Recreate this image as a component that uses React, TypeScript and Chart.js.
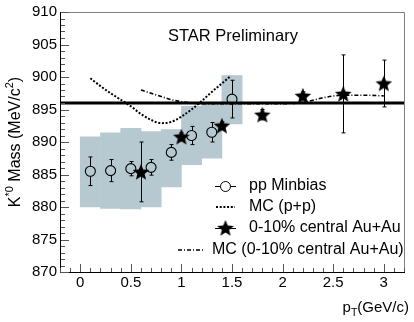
import React, { useEffect, useRef } from 'react';
import { Chart, registerables } from 'chart.js';

Chart.register(...registerables);

// ---- data ----
const ppPt = [0.1, 0.3, 0.5, 0.7, 0.9, 1.1, 1.3, 1.5];
const ppMass = [885.5, 885.6, 885.9, 886.1, 888.4, 891.0, 891.5, 896.6];
const ppErr = [2.2, 1.7, 1.1, 1.2, 1.2, 1.4, 1.5, 2.9];

const sysLow = [880.0, 879.8, 879.7, 880.0, 883.1, 886.5, 887.5, 892.8];
const sysHigh = [890.8, 891.4, 892.1, 891.6, 891.9, 895.5, 895.9, 900.2];

const auPt = [0.6, 1.0, 1.4, 1.8, 2.2, 2.6, 3.0];
const auMass = [885.4, 890.8, 892.5, 894.2, 897.1, 897.4, 899.0];
const auErr = [4.6, 0.6, 0.6, 0.8, 0.6, 6.0, 3.6];

const mcPpPt = [0.1, 0.2, 0.3, 0.4, 0.5, 0.6, 0.7, 0.8, 0.9, 1.0, 1.1, 1.2, 1.3, 1.4, 1.49];
const mcPpMass = [899.8, 898.6, 897.5, 896.5, 895.5, 894.3, 893.4, 892.9, 893.1, 893.9, 895.0, 896.3, 897.7, 899.0, 900.2];

const mcAuPt = [0.6, 0.7, 0.8, 0.9, 1.0, 1.1, 1.2, 1.4, 1.6, 1.8, 2.0, 2.2, 2.4, 2.6, 2.8, 3.0];
const mcAuMass = [898.0, 897.5, 897.0, 896.5, 896.2, 896.0, 895.9, 895.9, 895.9, 895.9, 895.9, 896.1, 896.8, 897.2, 897.2, 897.1];

const pdgPt = [-0.2, 3.2];
const pdgMass = [896.0, 896.0];

const xTicks = [0, 0.5, 1, 1.5, 2, 2.5, 3];
const yTicks = [870, 875, 880, 885, 890, 895, 900, 905, 910];
const legendLabels = ['pp Minbias', 'MC (p+p)', '0-10% central Au+Au', 'MC (0-10% central Au+Au)'];
const plotLabel = 'STAR Preliminary';

const FONT = '"Liberation Sans", Arial, Helvetica, sans-serif';
const BOX_COLOR = '#b6c9d1';
const STAR_SIZE = 18;

function makeStar(size: number): HTMLCanvasElement {
  const c = document.createElement('canvas');
  c.width = size;
  c.height = size;
  const g = c.getContext('2d')!;
  const cx = size / 2;
  const cy = size / 2 + 0.7;
  const R = size / 2 - 0.3;
  const r = R * 0.44;
  g.beginPath();
  for (let i = 0; i < 10; i++) {
    const a = -Math.PI / 2 + (i * Math.PI) / 5;
    const rad = i % 2 === 0 ? R : r;
    g.lineTo(cx + rad * Math.cos(a), cy + rad * Math.sin(a));
  }
  g.closePath();
  g.fillStyle = '#000';
  g.fill();
  return c;
}

type Part = { t: string; size: number; dy: number };

function richWidth(ctx: CanvasRenderingContext2D, parts: Part[]) {
  let w = 0;
  for (const p of parts) {
    ctx.font = `${p.size}px ${FONT}`;
    w += ctx.measureText(p.t).width;
  }
  return w;
}

function drawRich(ctx: CanvasRenderingContext2D, parts: Part[], x: number, y: number) {
  let cx = x;
  ctx.textBaseline = 'alphabetic';
  ctx.textAlign = 'left';
  for (const p of parts) {
    ctx.font = `${p.size}px ${FONT}`;
    ctx.fillText(p.t, cx, y + p.dy);
    cx += ctx.measureText(p.t).width;
  }
}

export default function App() {
  const ref = useRef<HTMLCanvasElement | null>(null);

  useEffect(() => {
    document.body.style.margin = '0';
    const canvas = ref.current!;
    const star = makeStar(STAR_SIZE);

    const decor = {
      id: 'decor',
      afterDatasetsDraw(chart: any) {
        const ctx: CanvasRenderingContext2D = chart.ctx;
        const xs = chart.scales.x;
        const ys = chart.scales.y;
        ctx.save();
        ctx.strokeStyle = '#000';
        ctx.lineWidth = 1;
        // pp error bars (outside the open circle)
        const rad = 5;
        ppPt.forEach((pt, i) => {
          const x = Math.round(xs.getPixelForValue(pt)) + 0.5;
          const yc = ys.getPixelForValue(ppMass[i]);
          const yt = ys.getPixelForValue(ppMass[i] + ppErr[i]);
          const yb = ys.getPixelForValue(ppMass[i] - ppErr[i]);
          ctx.beginPath();
          if (yt < yc - rad) {
            ctx.moveTo(x, yc - rad);
            ctx.lineTo(x, yt);
            ctx.moveTo(x - 2, yt);
            ctx.lineTo(x + 2, yt);
          }
          if (yb > yc + rad) {
            ctx.moveTo(x, yc + rad);
            ctx.lineTo(x, yb);
            ctx.moveTo(x - 2, yb);
            ctx.lineTo(x + 2, yb);
          }
          ctx.stroke();
        });
        // Au+Au error bars
        auPt.forEach((pt, i) => {
          const x = Math.round(xs.getPixelForValue(pt)) + 0.5;
          const yt = ys.getPixelForValue(auMass[i] + auErr[i]);
          const yb = ys.getPixelForValue(auMass[i] - auErr[i]);
          ctx.beginPath();
          ctx.moveTo(x, yt);
          ctx.lineTo(x, yb);
          ctx.moveTo(x - 2, yt);
          ctx.lineTo(x + 2, yt);
          ctx.moveTo(x - 2, yb);
          ctx.lineTo(x + 2, yb);
          ctx.stroke();
        });
        ctx.restore();
      },
      afterDraw(chart: any) {
        const ctx: CanvasRenderingContext2D = chart.ctx;
        const a = chart.chartArea;
        const xs = chart.scales.x;
        const ys = chart.scales.y;
        ctx.save();
        // frame
        ctx.lineWidth = 1;
        ctx.strokeStyle = '#808080';
        ctx.beginPath();
        ctx.moveTo(a.left, a.top + 0.5);
        ctx.lineTo(a.right + 0.5, a.top + 0.5);
        ctx.lineTo(a.right + 0.5, a.bottom);
        ctx.stroke();
        ctx.strokeStyle = '#000';
        ctx.beginPath();
        ctx.moveTo(a.left + 0.5, a.top);
        ctx.lineTo(a.left + 0.5, a.bottom + 0.5);
        ctx.lineTo(a.right + 1, a.bottom + 0.5);
        ctx.stroke();
        // y ticks (inward)
        ctx.strokeStyle = '#555';
        ctx.beginPath();
        for (let v = ys.min; v <= ys.max + 1e-6; v += 1) {
          const y = Math.round(ys.getPixelForValue(v)) + 0.5;
          const len = Math.abs(v % 5) < 1e-6 ? 8 : 4;
          ctx.moveTo(a.left + 1, y);
          ctx.lineTo(a.left + 1 + len, y);
        }
        // x ticks (inward)
        for (let k = Math.round(xs.min * 10); k <= Math.round(xs.max * 10); k++) {
          const x = Math.round(xs.getPixelForValue(k / 10)) + 0.5;
          const len = k % 5 === 0 ? 8 : 4;
          ctx.moveTo(x, a.bottom);
          ctx.lineTo(x, a.bottom - len);
        }
        ctx.stroke();

        ctx.fillStyle = '#000';
        // STAR Preliminary
        ctx.font = `16.5px ${FONT}`;
        ctx.textAlign = 'left';
        ctx.textBaseline = 'alphabetic';
        ctx.fillText(plotLabel, 168, 41);

        // y-axis title (rotated)
        const yParts: Part[] = [
          { t: 'K', size: 16, dy: 0 },
          { t: '*0', size: 11, dy: -7 },
          { t: ' Mass (MeV/c', size: 16, dy: 0 },
          { t: '2', size: 11, dy: -7 },
          { t: ')', size: 16, dy: 0 },
        ];
        ctx.save();
        ctx.translate(14, (a.top + a.bottom) / 2);
        ctx.rotate(-Math.PI / 2);
        const yw = richWidth(ctx, yParts);
        drawRich(ctx, yParts, -yw / 2, 6);
        ctx.restore();

        // x-axis title
        const xParts: Part[] = [
          { t: 'p', size: 15, dy: 0 },
          { t: 'T', size: 10.5, dy: 4 },
          { t: '(GeV/c)', size: 15, dy: 0 },
        ];
        const xw = richWidth(ctx, xParts);
        drawRich(ctx, xParts, 409 - xw, 312);

        // legend
        ctx.font = `16px ${FONT}`;
        const rows = [186, 207, 228, 250];
        ctx.strokeStyle = '#000';
        // 1: pp
        ctx.lineWidth = 1;
        ctx.beginPath();
        ctx.moveTo(215, rows[0] + 0.5);
        ctx.lineTo(236, rows[0] + 0.5);
        ctx.stroke();
        ctx.beginPath();
        ctx.arc(225.5, rows[0] + 0.5, 5, 0, Math.PI * 2);
        ctx.fillStyle = '#fff';
        ctx.fill();
        ctx.stroke();
        // 2: MC pp dotted
        ctx.lineWidth = 2;
        ctx.setLineDash([2, 1.7]);
        ctx.beginPath();
        ctx.moveTo(216, rows[1]);
        ctx.lineTo(235, rows[1]);
        ctx.stroke();
        // 3: star
        ctx.setLineDash([]);
        ctx.lineWidth = 1;
        ctx.beginPath();
        ctx.moveTo(215, rows[2] + 0.5);
        ctx.lineTo(236, rows[2] + 0.5);
        ctx.stroke();
        ctx.drawImage(star, 225.5 - STAR_SIZE / 2, rows[2] - STAR_SIZE / 2);
        // 4: MC AuAu dash-dot
        ctx.lineWidth = 1.6;
        ctx.setLineDash([4, 2, 1, 2]);
        ctx.beginPath();
        ctx.moveTo(178, rows[3]);
        ctx.lineTo(205, rows[3]);
        ctx.stroke();
        ctx.setLineDash([]);
        ctx.fillStyle = '#000';
        ctx.textBaseline = 'middle';
        ctx.textAlign = 'left';
        ctx.fillText(legendLabels[0], 249, rows[0]);
        ctx.fillText(legendLabels[1], 249, rows[1]);
        ctx.fillText(legendLabels[2], 249, rows[2]);
        ctx.fillText(legendLabels[3], 212, rows[3]);
        ctx.restore();
      },
    };

    const chart = new Chart(canvas, {
      type: 'scatter',
      data: {
        datasets: [
          {
            type: 'bar',
            label: 'sys',
            data: ppPt.map((x, i) => ({ x, y: [sysLow[i], sysHigh[i]] })) as any,
            backgroundColor: BOX_COLOR,
            borderWidth: 0,
            barPercentage: 1,
            categoryPercentage: 1,
            order: 10,
          } as any,
          {
            label: legendLabels[1],
            data: mcPpPt.map((x, i) => ({ x, y: mcPpMass[i] })),
            showLine: true,
            borderColor: '#000',
            borderWidth: 2,
            borderDash: [2, 1.7],
            pointRadius: 0,
            cubicInterpolationMode: 'monotone',
            order: 4,
          },
          {
            label: legendLabels[3],
            data: mcAuPt.map((x, i) => ({ x, y: mcAuMass[i] })),
            showLine: true,
            borderColor: '#000',
            borderWidth: 1.6,
            borderDash: [4, 2, 1, 2],
            pointRadius: 0,
            cubicInterpolationMode: 'monotone',
            order: 5,
          },
          {
            label: 'PDG',
            data: pdgPt.map((x, i) => ({ x, y: pdgMass[i] })),
            showLine: true,
            borderColor: '#000',
            borderWidth: 3,
            pointRadius: 0,
            order: 3,
          },
          {
            label: legendLabels[0],
            data: ppPt.map((x, i) => ({ x, y: ppMass[i] })),
            pointStyle: 'circle',
            pointRadius: 5,
            borderColor: '#000',
            borderWidth: 1.1,
            backgroundColor: 'rgba(0,0,0,0)',
            order: 1,
          },
          {
            label: legendLabels[2],
            data: auPt.map((x, i) => ({ x, y: auMass[i] })),
            pointStyle: star as any,
            pointRadius: 9,
            order: 0,
          },
        ],
      },
      options: {
        animation: false,
        responsive: false,
        devicePixelRatio: 1,
        layout: { padding: { top: 12, right: 3, left: 0, bottom: 0 } },
        plugins: { legend: { display: false }, tooltip: { enabled: false } },
        scales: {
          x: {
            type: 'linear',
            min: -0.2,
            max: 3.2,
            offset: false,
            afterFit: (s: any) => {
              s.height = 50;
            },
            afterBuildTicks: (s: any) => {
              s.ticks = xTicks.map((v) => ({ value: v }));
            },
            ticks: {
              font: { size: 15, family: FONT },
              color: '#000',
              padding: 2,
              maxRotation: 0,
              autoSkip: false,
              callback: (v: any) => String(v),
            },
            grid: { display: false, drawTicks: false },
            border: { display: false },
          },
          y: {
            type: 'linear',
            min: 870,
            max: 910,
            afterFit: (s: any) => {
              s.width = 60;
            },
            afterBuildTicks: (s: any) => {
              s.ticks = yTicks.map((v) => ({ value: v }));
            },
            ticks: {
              font: { size: 15, family: FONT },
              color: '#000',
              padding: 3,
              autoSkip: false,
              callback: (v: any) => String(v),
            },
            grid: { display: false, drawTicks: false },
            border: { display: false },
          },
        },
      },
      plugins: [decor],
    } as any);

    return () => chart.destroy();
  }, []);

  return <canvas ref={ref} width={414} height={322} style={{ display: 'block' }} />;
}
